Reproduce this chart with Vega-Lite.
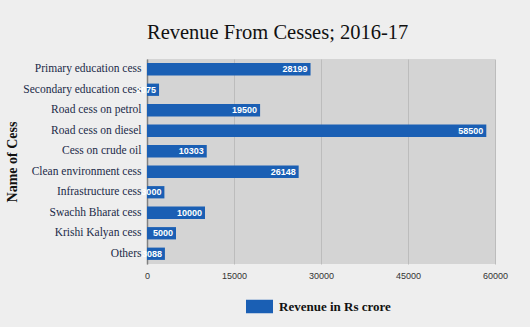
{
  "$schema": "https://vega.github.io/schema/vega-lite/v6.json",
  "autosize": "none",
  "width": 348,
  "height": 205,
  "padding": {"left": 147, "top": 59, "right": 35, "bottom": 63},
  "background": "#eeeeee",
  "title": {
    "text": "Revenue From Cesses; 2016-17",
    "anchor": "start",
    "frame": "group",
    "font": "Liberation Serif",
    "fontSize": 20.5,
    "fontWeight": "normal",
    "color": "#111111",
    "baseline": "alphabetic",
    "offset": 0
  },
  "config": {
    "view": {"fill": "#d4d4d4", "stroke": null}
  },
  "data": {
    "values": [
      {"cess": "Primary education cess", "value": 28199},
      {"cess": "Secondary education cess", "value": 2075},
      {"cess": "Road cess on petrol", "value": 19500},
      {"cess": "Road cess on diesel", "value": 58500},
      {"cess": "Cess on crude oil", "value": 10303},
      {"cess": "Clean environment cess", "value": 26148},
      {"cess": "Infrastructure cess", "value": 3000},
      {"cess": "Swachh Bharat cess", "value": 10000},
      {"cess": "Krishi Kalyan cess", "value": 5000},
      {"cess": "Others", "value": 3088}
    ]
  },
  "encoding": {
    "y": {
      "field": "cess",
      "type": "nominal",
      "sort": null,
      "scale": {"paddingInner": 0.4, "paddingOuter": 0.2},
      "axis": {
        "title": "Name of Cess",
        "titleFont": "Liberation Serif",
        "titleFontSize": 14,
        "titleFontWeight": "bold",
        "titleColor": "#111111",
        "titlePadding": 3,
        "labelFont": "Liberation Serif",
        "labelFontSize": 11.5,
        "labelColor": "#1b2a48",
        "labelPadding": 6,
        "ticks": false,
        "domainColor": "#808080",
        "domainWidth": 1.5
      }
    },
    "x": {
      "field": "value",
      "type": "quantitative",
      "scale": {"domain": [0, 60000], "nice": false},
      "axis": {
        "title": null,
        "values": [0, 15000, 30000, 45000, 60000],
        "format": "d",
        "labelFont": "Liberation Sans",
        "labelFontSize": 9,
        "labelColor": "#333333",
        "labelPadding": 7,
        "ticks": false,
        "domain": false,
        "gridColor": "#bcbcbc",
        "gridWidth": 1,
        "labelFlush": false
      }
    }
  },
  "layer": [
    {
      "mark": {"type": "bar", "color": "#1a5fb4"},
      "encoding": {
        "color": {
          "datum": "Revenue in Rs crore",
          "scale": {"range": ["#1a5fb4"]},
          "legend": {
            "title": null,
            "orient": "none",
            "legendX": 99,
            "legendY": 234,
            "symbolType": "M-1,-0.5H1V0.5H-1Z",
            "symbolSize": 729,
            "symbolStrokeWidth": 0,
            "labelFont": "Liberation Serif",
            "labelFontSize": 13,
            "labelFontWeight": "bold",
            "labelColor": "#111111",
            "labelOffset": 6
          }
        }
      }
    },
    {
      "mark": {
        "type": "text",
        "align": "right",
        "baseline": "middle",
        "dx": -3,
        "color": "white",
        "font": "Liberation Sans",
        "fontSize": 9,
        "fontWeight": "bold"
      },
      "encoding": {
        "text": {"field": "value", "type": "quantitative", "format": "d"}
      }
    }
  ]
}
